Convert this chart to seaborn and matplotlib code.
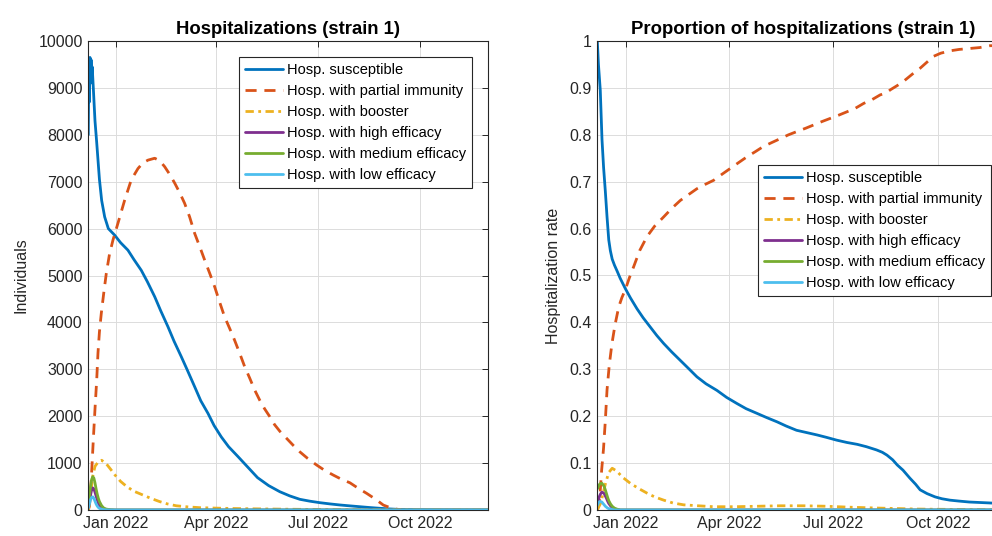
import numpy as np
import pandas as pd
import matplotlib
matplotlib.use("Agg")
import matplotlib.pyplot as plt
import matplotlib.dates as mdates
from matplotlib.ticker import MultipleLocator, FuncFormatter
import seaborn as sns

# ---------------------------------------------------------------------------
# Data: day offsets from the simulation start and hospitalisation values
# ---------------------------------------------------------------------------
START = pd.Timestamp("2021-12-07")
END_DAY = 359

labels = [
    "Hosp. susceptible",
    "Hosp. with partial immunity",
    "Hosp. with booster",
    "Hosp. with high efficacy",
    "Hosp. with medium efficacy",
    "Hosp. with low efficacy",
]

# Absolute hospitalizations (individuals)
sus_days = [0, 0.5, 1, 1.5, 2, 2.5, 3, 3.5, 4.5, 6, 7.5, 10, 12, 14.7, 18, 23.7, 29,
            35.6, 41, 47.6, 53, 59.6, 65, 71.5, 77, 83.5, 89, 95.5, 101, 107.5, 113,
            119.4, 126, 134.4, 143, 152, 162, 172, 181, 190, 199, 208, 217, 226, 235,
            244, 253, 262, 271, 280, 300, 320, 340, 359]
sus_vals = [8000, 9600, 8700, 9650, 9100, 9600, 9250, 9450, 9000, 8300, 7850, 7050,
            6600, 6250, 6000, 5860, 5700, 5540, 5340, 5110, 4870, 4550, 4250, 3910,
            3600, 3270, 2980, 2630, 2330, 2060, 1800, 1560, 1350, 1140, 920, 690, 520,
            390, 300, 228, 188, 156, 130, 107, 88, 70, 52, 36, 22, 12, 4, 1, 0, 0]

par_days = [0, 1, 2, 3, 4.5, 6, 7.5, 8.7, 10, 11.7, 14, 16.2, 19, 22.2, 26.7, 32.7,
            38.6, 44.6, 49, 53.6, 59.6, 64, 68.6, 73, 77.6, 82, 86.5, 91, 95.5, 100,
            104.5, 109, 113.5, 118, 122.4, 127, 131.4, 136, 140.4, 145, 149.4, 154,
            158.3, 163, 167.3, 172, 178, 184, 190, 197, 205, 212, 220, 227, 235, 242,
            250, 258, 265, 270, 274, 278, 282]
par_vals = [0, 80, 350, 800, 1500, 2150, 2750, 3350, 3800, 4200, 4650, 5050, 5450,
            5760, 6120, 6610, 7040, 7280, 7400, 7460, 7500, 7450, 7320, 7160, 6970,
            6770, 6540, 6250, 5900, 5620, 5330, 5050, 4760, 4430, 4120, 3870, 3620,
            3340, 3060, 2810, 2560, 2340, 2160, 1990, 1820, 1680, 1530, 1380, 1240,
            1100, 960, 850, 745, 660, 580, 470, 355, 230, 105, 60, 35, 12, 0]

boo_days = [0, 2, 4, 6, 9, 12, 16, 20, 24, 29, 34.5, 41, 49, 56, 64, 71, 79, 90, 100,
            115, 130, 150, 175, 200, 230, 260, 300, 359]
boo_vals = [0, 300, 720, 930, 1030, 1060, 990, 870, 745, 610, 500, 400, 320, 250, 180,
            130, 90, 65, 50, 40, 32, 25, 18, 12, 6, 3, 1, 0]

eff_days = [0, 1, 2, 3, 4, 5, 6, 7, 8, 9, 10, 12, 14, 16, 20, 24, 359]
high_vals = [60, 180, 320, 430, 470, 450, 380, 300, 220, 150, 100, 50, 25, 10, 3, 0, 0]
med_vals = [120, 300, 500, 650, 710, 680, 580, 450, 340, 250, 180, 90, 40, 20, 5, 0, 0]
low_vals = [40, 130, 220, 270, 280, 250, 190, 130, 85, 55, 35, 15, 6, 3, 1, 0, 0]

# Proportion of hospitalizations (rate)
psus_days = [0, 1, 2.6, 4.1, 5.5, 7, 8.5, 10, 11.4, 13, 15, 17.2, 20, 24.5, 29, 34.7,
             40, 46.3, 52, 58, 65, 72.5, 80, 87, 95, 104.5, 113, 122, 130, 139.5, 148,
             157, 165, 174, 183, 192, 200, 209, 218, 227, 235, 244, 249, 253, 258, 262,
             267, 273, 278, 282, 288, 295, 301, 308, 316, 325, 334, 343, 351, 359]
psus_vals = [1.0, 0.95, 0.895, 0.79, 0.73, 0.68, 0.625, 0.576, 0.553, 0.535, 0.522,
             0.51, 0.494, 0.472, 0.452, 0.429, 0.41, 0.39, 0.372, 0.355, 0.337, 0.319,
             0.301, 0.284, 0.269, 0.255, 0.24, 0.227, 0.216, 0.206, 0.197, 0.188,
             0.179, 0.17, 0.165, 0.16, 0.155, 0.149, 0.144, 0.14, 0.135, 0.128, 0.123,
             0.117, 0.107, 0.096, 0.085, 0.068, 0.055, 0.043, 0.035, 0.028, 0.024,
             0.021, 0.019, 0.017, 0.016, 0.015, 0.014, 0.013]

ppar_days = [0, 2, 3.8, 5.4, 7, 8.5, 10.5, 12.8, 15.5, 18.7, 21.5, 24.5, 28, 31.8, 37,
             43.4, 50, 58, 65, 72.5, 80, 87, 94, 101.6, 109, 116, 123, 130.7, 138, 145,
             152, 160, 167, 174.4, 182, 189, 196, 203.5, 211, 218, 225, 232.7, 240,
             247, 252.7, 256, 262, 267, 272, 277, 282, 288, 293.4, 300, 308, 316, 325,
             334, 343, 351, 359]
ppar_vals = [0, 0.02, 0.085, 0.13, 0.19, 0.256, 0.31, 0.355, 0.395, 0.433, 0.453, 0.47,
             0.495, 0.519, 0.553, 0.583, 0.605, 0.625, 0.643, 0.66, 0.673, 0.685, 0.694,
             0.703, 0.716, 0.728, 0.74, 0.753, 0.764, 0.775, 0.783, 0.792, 0.8, 0.807,
             0.814, 0.821, 0.828, 0.835, 0.842, 0.849, 0.856, 0.867, 0.875, 0.885,
             0.89, 0.896, 0.905, 0.913, 0.923, 0.933, 0.942, 0.955, 0.967, 0.974,
             0.979, 0.982, 0.984, 0.986, 0.99, 0.99, 0.991]

pboo_days = [0, 3, 5, 7, 10, 13, 17, 22, 28.8, 36, 43.4, 50, 58, 66, 75.5, 88, 101.7,
             120, 140, 160, 180, 200, 220, 247, 280, 320, 359]
pboo_vals = [0, 0.015, 0.035, 0.055, 0.08, 0.089, 0.083, 0.07, 0.057, 0.046, 0.036,
             0.028, 0.021, 0.015, 0.011, 0.009, 0.007, 0.007, 0.008, 0.009, 0.009,
             0.008, 0.006, 0.004, 0.002, 0.001, 0.0]

peff_days = [0, 1, 2, 3, 4, 5, 6, 7, 8, 9, 10, 11.5, 13, 15, 17, 20, 359]
phigh_vals = [0.015, 0.022, 0.03, 0.035, 0.038, 0.037, 0.035, 0.03, 0.025, 0.019,
              0.014, 0.009, 0.005, 0.002, 0.001, 0, 0]
pmed_vals = [0.045, 0.05, 0.055, 0.057, 0.057, 0.054, 0.05, 0.043, 0.035, 0.027, 0.02,
             0.013, 0.008, 0.004, 0.002, 0, 0]
plow_vals = [0.01, 0.015, 0.018, 0.018, 0.017, 0.014, 0.011, 0.008, 0.006, 0.004,
             0.003, 0.002, 0.001, 0.0, 0, 0, 0]

# ---------------------------------------------------------------------------
# Styling
# ---------------------------------------------------------------------------
colors = ["#0072BD", "#D95319", "#EDB120", "#7E2F8E", "#77AC30", "#4DBEEE"]
styles = ["-", (0, (4, 2.8)), (0, (3, 1.6, 1, 1.6)), "-", "-", "-"]
AX_COLOR = "#262626"

sns.set_theme(style="white")
plt.rcParams["font.family"] = ["Liberation Sans", "DejaVu Sans"]


def to_dates(days):
    return START + pd.to_timedelta(np.asarray(days, dtype=float), unit="D")


def draw_panel(ax, series, title, ylabel, ymax, ystep, fmt, label_x):
    for (days, vals), color, ls, lab in zip(series, colors, styles, labels):
        sns.lineplot(x=to_dates(days), y=vals, ax=ax, color=color, linestyle=ls,
                     linewidth=2.0, label=lab, legend=False)
    ax.set_xlim(START, START + pd.Timedelta(days=END_DAY))
    ax.set_ylim(0, ymax)
    ax.xaxis.set_major_locator(mdates.MonthLocator(bymonth=[1, 4, 7, 10]))
    ax.xaxis.set_major_formatter(mdates.DateFormatter("%b %Y"))
    ax.yaxis.set_major_locator(MultipleLocator(ystep))
    ax.yaxis.set_major_formatter(FuncFormatter(fmt))
    ax.grid(True, color="#dcdcdc", linewidth=0.7)
    ax.set_axisbelow(True)
    ax.tick_params(direction="in", length=4, width=0.7, top=True, right=True,
                   labelsize=11.5, colors=AX_COLOR, pad=4)
    for sp in ax.spines.values():
        sp.set_visible(True)
        sp.set_color(AX_COLOR)
        sp.set_linewidth(0.8)
    ax.set_title(title, fontsize=13.3, fontweight="bold", color="black", pad=5)
    ax.set_xlabel("")
    ax.set_ylabel(ylabel, fontsize=11.5, color=AX_COLOR)
    ax.yaxis.set_label_coords(label_x, 0.5)


fig = plt.figure(figsize=(9.92, 5.36), dpi=100)
W, H = 992.0, 536.0
ax1 = fig.add_axes([88.3 / W, 26 / H, 399.7 / W, 469 / H])
ax2 = fig.add_axes([597.3 / W, 26 / H, 411 / W, 469 / H])

left_series = [(sus_days, sus_vals), (par_days, par_vals), (boo_days, boo_vals),
               (eff_days, high_vals), (eff_days, med_vals), (eff_days, low_vals)]
right_series = [(psus_days, psus_vals), (ppar_days, ppar_vals), (pboo_days, pboo_vals),
                (peff_days, phigh_vals), (peff_days, pmed_vals), (peff_days, plow_vals)]

draw_panel(ax1, left_series, "Hospitalizations (strain 1)", "Individuals",
           10000, 1000, lambda v, _: f"{v:.0f}", (28 - 88.3) / 399.7)
draw_panel(ax2, right_series, "Proportion of hospitalizations (strain 1)",
           "Hospitalization rate", 1, 0.1, lambda v, _: f"{v:g}", (561 - 597.3) / 411)


def add_legend(ax, anchor, loc):
    leg = ax.legend(ax.lines[:6], labels, loc=loc, bbox_to_anchor=anchor,
                    bbox_transform=fig.transFigure, frameon=True, fancybox=False,
                    shadow=False, framealpha=1, edgecolor=AX_COLOR, facecolor="white",
                    fontsize=10.5, handlelength=2.6, handletextpad=0.3,
                    labelspacing=0.48, borderpad=0.4, borderaxespad=0)
    leg.get_frame().set_linewidth(0.8)
    for t in leg.get_texts():
        t.set_color("black")


add_legend(ax1, (472 / W, 1 - 57 / H), "upper right")
add_legend(ax2, (758 / W, 1 - 165 / H), "upper left")

fig.savefig("out.png", dpi=100)
